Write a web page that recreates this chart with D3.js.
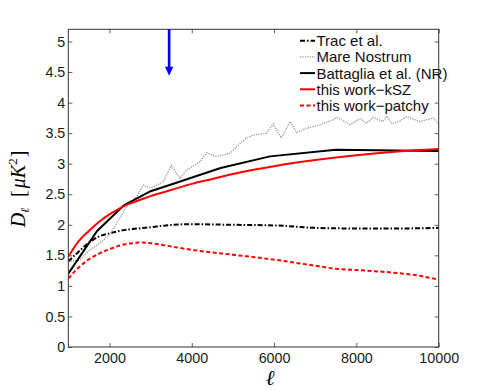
<!DOCTYPE html>
<html>
<head>
<script src="https://cdn.jsdelivr.net/npm/d3@7"></script>
<style>
	body { margin: 0; background: #fff; }
	text { font-family: "Liberation Sans", Arial, sans-serif; }
	.tick text { font-size: 14.3px; fill: #1a1a1a; }
	.series { fill: none; }
</style>
</head>
<body>
<script>
var width = 485, height = 390;
var margin = { left: 68.3, right: 46.3, top: 29.3, bottom: 43 };

// data
var yTicks = [0, 0.5, 1, 1.5, 2, 2.5, 3, 3.5, 4, 4.5, 5];
var xTicks = [2000, 4000, 6000, 8000, 10000];

var tracEll = [1000, 1250, 1430, 1750, 2000, 2250, 2560, 3000, 3370, 4000, 5000, 6000, 7000, 8000, 9000, 10000];
var tracVal = [1.40, 1.56, 1.67, 1.81, 1.86, 1.90, 1.93, 1.96, 1.99, 2.01, 2.00, 1.99, 1.95, 1.94, 1.94, 1.95];

var mareEll = [1000, 1270, 1530, 1770, 2010, 2180, 2420, 2660, 2820, 3000, 3300, 3500, 3710, 3880, 4200, 4360, 4600, 4930, 5170, 5330, 5500, 5820, 5980, 6180, 6390, 6550, 6790, 7040, 7440, 7520, 7850, 8090, 8250, 8410, 8650, 8740, 8860, 9060, 9220, 9550, 9870, 10000];
var mareVal = [1.40, 1.42, 1.59, 1.70, 1.85, 2.03, 2.30, 2.46, 2.65, 2.60, 2.70, 2.97, 2.76, 2.90, 3.03, 3.18, 3.12, 3.17, 3.33, 3.42, 3.47, 3.50, 3.65, 3.42, 3.69, 3.51, 3.58, 3.62, 3.72, 3.76, 3.64, 3.74, 3.66, 3.76, 3.69, 3.78, 3.65, 3.70, 3.77, 3.69, 3.75, 3.65];

var nrEll = [1000, 1700, 2350, 3000, 3500, 4700, 5900, 7500, 10000];
var nrVal = [1.20, 1.90, 2.32, 2.55, 2.66, 2.93, 3.12, 3.23, 3.21];

var kszEll = [1000, 1250, 1500, 1750, 2000, 2250, 2500, 2750, 3000, 3500, 4000, 4500, 5000, 5500, 6000, 7000, 8000, 9000, 10000];
var kszVal = [1.48, 1.73, 1.90, 2.05, 2.17, 2.27, 2.35, 2.41, 2.47, 2.57, 2.67, 2.75, 2.83, 2.90, 2.96, 3.06, 3.14, 3.20, 3.24];

var patchyEll = [1000, 1250, 1430, 1750, 2000, 2250, 2560, 2800, 3000, 3370, 4000, 5000, 6000, 7000, 7500, 8000, 9000, 9500, 10000];
var patchyVal = [1.12, 1.30, 1.40, 1.53, 1.60, 1.66, 1.70, 1.71, 1.70, 1.66, 1.59, 1.51, 1.43, 1.33, 1.28, 1.26, 1.21, 1.17, 1.10];

var arrowEll = 3450, arrowFrom = 5.2, arrowTo = 4.44;

var legendNames = ["Trac et al.", "Mare Nostrum", "Battaglia et al. (NR)", "this work\u2212kSZ", "this work\u2212patchy"];

function zip(xs, ys) { return xs.map(function(x, i) { return [x, ys[i]]; }); }

var series = [
	{ name: legendNames[0], pts: zip(tracEll, tracVal), color: "#000", w: 2, dash: "5,2,1.5,2", curve: d3.curveMonotoneX },
	{ name: legendNames[1], pts: zip(mareEll, mareVal), color: "#9a9a9a", w: 1.4, dash: "1.2,1.2", curve: d3.curveLinear },
	{ name: legendNames[2], pts: zip(nrEll, nrVal), color: "#000", w: 2, dash: null, curve: d3.curveLinear },
	{ name: legendNames[3], pts: zip(kszEll, kszVal), color: "#ff0000", w: 2, dash: null, curve: d3.curveMonotoneX },
	{ name: legendNames[4], pts: zip(patchyEll, patchyVal), color: "#ff0000", w: 2, dash: "4,2.5", curve: d3.curveMonotoneX }
];

var svg = d3.select("body").append("svg")
	.attr("width", width)
	.attr("height", height);

var iw = width - margin.left - margin.right,
	ih = height - margin.top - margin.bottom;

var x = d3.scaleLinear().domain([1000, 10000]).range([0, iw]);
var y = d3.scaleLinear().domain([0, 5.2]).range([ih, 0]);

var g = svg.append("g").attr("transform", "translate(" + margin.left + "," + margin.top + ")");

g.append("defs").append("clipPath").attr("id", "clip")
  .append("rect").attr("width", iw).attr("height", ih);

// axes, ticks pointing inward like matlab
var tl = 4;
var xAxis = g.append("g").attr("transform", "translate(0," + ih + ")")
	.call(d3.axisBottom(x).tickValues(xTicks).tickSize(-tl).tickPadding(9).tickFormat(d3.format("d")));
var yAxis = g.append("g")
	.call(d3.axisLeft(y).tickValues(yTicks).tickSize(-tl).tickPadding(3).tickFormat(function(d) { return String(d); }));
g.append("g").call(d3.axisTop(x).tickValues(xTicks).tickSize(-tl).tickFormat(""));
g.append("g").attr("transform", "translate(" + iw + ",0)")
	.call(d3.axisRight(y).tickValues(yTicks).tickSize(-tl).tickFormat(""));
g.selectAll(".domain").remove();
g.selectAll(".tick line").attr("stroke", "#333").attr("stroke-width", 0.8);
xAxis.selectAll(".tick text").attr("dy", "0.5em");

var line = d3.line().x(function(d) { return x(d[0]); }).y(function(d) { return y(d[1]); });

g.append("g").attr("clip-path", "url(#clip)").selectAll("path")
	.data(series)
  .enter().append("path")
	.attr("class", "series")
	.attr("d", function(s) { return line.curve(s.curve)(s.pts); })
	.attr("stroke", function(s) { return s.color; })
	.attr("stroke-width", function(s) { return s.w; })
	.attr("stroke-dasharray", function(s) { return s.dash; });

// frame
g.append("rect").attr("width", iw).attr("height", ih)
	.attr("fill", "none").attr("stroke", "#333").attr("stroke-width", 1);

// blue arrow
var ax = x(arrowEll);
g.append("line")
	.attr("x1", ax).attr("x2", ax)
	.attr("y1", y(arrowFrom)).attr("y2", y(arrowTo) - 7)
	.attr("stroke", "#0000ff").attr("stroke-width", 2.6);
g.append("path")
	.attr("d", "M" + (ax - 4.2) + "," + (y(arrowTo) - 9) + " L" + (ax + 4.2) + "," + (y(arrowTo) - 9) + " L" + ax + "," + y(arrowTo) + "Z")
	.attr("fill", "#0000ff");

// legend
var leg = g.append("g").attr("transform", "translate(" + (300 - margin.left) + "," + (40.7 - margin.top) + ")");
var rows = leg.selectAll("g").data(series).enter().append("g")
	.attr("transform", function(d, i) { return "translate(0," + (i * 16.2) + ")"; });
rows.append("line")
	.attr("x1", 0).attr("x2", 15).attr("y1", 0).attr("y2", 0)
	.attr("stroke", function(s) { return s.color; })
	.attr("stroke-width", function(s) { return s.w; })
	.attr("stroke-dasharray", function(s) { return s.dash; });
rows.append("text")
	.attr("x", 16.5).attr("y", 0).attr("dy", "0.36em")
	.style("font-size", "15px").attr("fill", "#111")
	.text(function(s) { return s.name; });

// axis labels
svg.append("text")
	.attr("x", 270).attr("y", 385)
	.attr("text-anchor", "middle")
	.style("font-family", "'Liberation Serif', 'DejaVu Serif', serif")
	.style("font-style", "italic").style("font-size", "21px")
	.text("\u2113");

var yl = svg.append("text")
	.attr("transform", "translate(25,189) rotate(-90)")
	.attr("text-anchor", "middle")
	.style("font-family", "'Liberation Serif', 'DejaVu Serif', serif")
	.style("font-size", "20px");
yl.append("tspan").style("font-style", "italic").text("D");
yl.append("tspan").style("font-style", "italic").style("font-size", "12px").attr("dy", 4).text("\u2113");
yl.append("tspan").attr("dy", -4).attr("dx", 11).text("[");
yl.append("tspan").style("font-style", "italic").attr("dx", 2).text("\u03bcK");
yl.append("tspan").style("font-size", "13px").attr("dy", -8).text("2");
yl.append("tspan").attr("dy", 8).attr("dx", 1).text("]");
</script>
</body>
</html>
